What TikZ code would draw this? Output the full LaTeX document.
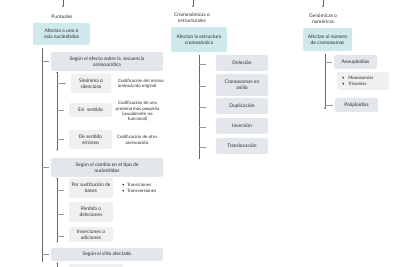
\documentclass[tikz,border=0pt]{standalone}
\usepackage{fontspec}
\setmainfont{Lato}
\usetikzlibrary{arrows.meta}
\definecolor{tealc}{HTML}{CFE8EB}
\definecolor{secc}{HTML}{E3E6EA}
\definecolor{leafc}{HTML}{EFF0F2}
\definecolor{linec}{HTML}{666666}
\definecolor{tickc}{HTML}{999999}
\definecolor{txtc}{HTML}{2B2B2B}
\begin{document}
\begin{tikzpicture}[x=1pt,y=-1pt,
  every node/.style={text=txtc},
  font=\fontsize{4.9}{6}\selectfont,
  box/.style={rounded corners=1.5pt, inner sep=0pt, align=center},
  tealbox/.style={box, fill=tealc},
  secbox/.style={box, fill=secc},
  leafbox/.style={box, fill=leafc},
  lbl/.style={inner sep=0pt, align=center},
  dsc/.style={inner sep=0pt, align=center, font=\fontsize{4.5}{5.4}\selectfont},
  wire/.style={draw=linec, line width=0.5pt},
  tick/.style={draw=tickc, line width=0.4pt},
  endpt/.style={fill=linec!80!black},
  tip/.style={-{Stealth[length=2.2pt,width=2pt]}}
]
\useasboundingbox (0,0) rectangle (400,267);
\clip (0,0) rectangle (400,267);

% ---------- top arrows ----------
\coordinate (a1s) at (63,0);   \coordinate (a1e) at (63,7.5);
\coordinate (a2s) at (193,0);  \coordinate (a2e) at (193,7.5);
\coordinate (a3s) at (323,0);  \coordinate (a3e) at (323,7.5);
\draw[wire,tip] (a1s) -- (a1e);
\draw[wire,tip] (a2s) -- (a2e);
\draw[wire,tip] (a3s) -- (a3e);

% ---------- left column ----------
\node[lbl] (p) at (62,17) {Puntuales};
\node[tealbox, minimum width=57pt, minimum height=22pt] (t1) at (61.5,34) {Afectan a uno o\\más nucleótidos};
\coordinate (L1top) at (42,48);
\coordinate (L1bot) at (42,262);
\draw[wire] (L1top) -- (L1bot);

\node[secbox, minimum width=112pt, minimum height=19pt] (s1) at (107,61.5) {Según el efecto sobre la\ \ secuencia\\aminoacídica};
\node[secbox, minimum width=112pt, minimum height=19pt] (s2) at (107,167.5) {Según el cambio en el tipo de\\nucleótidos};
\node[secbox, minimum width=112pt, minimum height=13pt] (s3) at (107,254.5) {Según el sitio afectado};
\foreach \n in {s1,s2,s3} \draw[tick] (\n.west -| L1top) -- ([xshift=-2pt]\n.west);

% group 1
\coordinate (g1top) at (57,72.5);
\coordinate (g1bot) at (57,150);
\draw[wire] (g1top) -- (g1bot);
\fill[endpt] (g1top) circle (0.65pt);
\fill[endpt] (g1bot) circle (0.65pt);
\node[leafbox, minimum width=40pt, minimum height=19pt] (e1) at (91,83.5) {Sinónima o\\silenciosa};
\node[leafbox, minimum width=43pt, minimum height=14pt] (e2) at (90.5,110) {Sin\ \ sentido};
\node[leafbox, minimum width=43pt, minimum height=19pt] (e3) at (90.5,139.5) {De sentido\\erróneo};
\foreach \n in {e1,e2,e3} \draw[tick] (\n.west -| g1top) -- ([xshift=-5pt]\n.west);
\node[dsc, align=left, anchor=west] (d1) at (118,83.5) {Codificación del mismo\\aminoácido original};
\node[dsc] (d2) at (137.5,111.5) {Codificación de una\\proteína más pequeña\\(usualmente no\\funcional)};
\node[dsc] (d3) at (137,140) {Codificación de otro\\aminoácido};

% group 2
\coordinate (g2top) at (57,178.5);
\coordinate (g2bot) at (57,242);
\draw[wire] (g2top) -- (g2bot);
\fill[endpt] (g2top) circle (0.65pt);
\fill[endpt] (g2bot) circle (0.65pt);
\node[leafbox, minimum width=44pt, minimum height=20pt] (f1) at (91,188) {Por sustitución de\\bases};
\node[leafbox, minimum width=44pt, minimum height=20pt] (f2) at (91,212) {Pérdida o\\deleciones};
\node[leafbox, minimum width=44pt, minimum height=15pt] (f3) at (91,234.5) {Inserciones o\\adiciones};
\foreach \n in {f1,f2,f3} \draw[tick] ([yshift=-2pt]\n.west -| g2top) -- ([xshift=-5pt,yshift=-2pt]\n.west);
\node[dsc, align=left, anchor=west] (fb) at (122,188) {•\ \ Transiciones\\•\ \ Transversiones};

% group 3 (cut off)
\coordinate (g3top) at (57,263);
\coordinate (g3bot) at (57,275);
\draw[wire] (g3top) -- (g3bot);
\fill[endpt] (g3top) circle (0.65pt);
\node[leafbox, minimum width=54pt, minimum height=14pt] (h1) at (96,271) {};

% ---------- middle column ----------
\node[lbl] (c) at (192,18) {Cromosómicas o\\estructurales};
\node[tealbox, minimum width=56pt, minimum height=25pt] (t2) at (199,39.5) {Afectan la estructura\\cromosómica};
\coordinate (L2top) at (199,55);
\coordinate (L2bot) at (199,159);
\draw[wire] (L2top) -- (L2bot);
\node[secbox, minimum width=52pt, minimum height=16pt] (m1) at (242,63) {Deleción};
\node[secbox, minimum width=52pt, minimum height=22pt] (m2) at (242,85) {Cromosomas en\\anillo};
\node[secbox, minimum width=52pt, minimum height=16pt] (m3) at (242,106) {Duplicación};
\node[secbox, minimum width=52pt, minimum height=16pt] (m4) at (242,126) {Inversión};
\node[secbox, minimum width=52pt, minimum height=16pt] (m5) at (242,146) {Translocación};
\foreach \n in {m1,m2,m3,m4,m5} \draw[tick] ([yshift=-1pt]\n.west -| L2top) -- ([xshift=-10pt,yshift=-1pt]\n.west);

% ---------- right column ----------
\node[lbl] (g) at (323,19) {Genómicas o\\numéricas};
\node[tealbox, minimum width=49pt, minimum height=23pt] (t3) at (327.5,39.5) {Afectan al número\\de cromosomas};
\coordinate (L3top) at (325,54);
\coordinate (L3bot) at (325,109.5);
\draw[wire,tip] (L3top) -- (L3bot);
\node[secbox, minimum width=43pt, minimum height=14pt] (r1) at (355.5,62) {Aneuploidías};
\node[leafbox, minimum width=52pt, minimum height=18pt] (r2) at (363,81) {};
\node[dsc, align=left, anchor=west] (rb) at (342,81) {•\ \ \ Monosomías\\•\ \ \ Trisomías};
\node[secbox, minimum width=43pt, minimum height=14pt] (r3) at (356.5,105) {Poliploidías};
\foreach \n in {r1,r3} \draw[tick] (\n.west -| L3top) -- ([xshift=-2pt]\n.west);
\end{tikzpicture}
\end{document}
